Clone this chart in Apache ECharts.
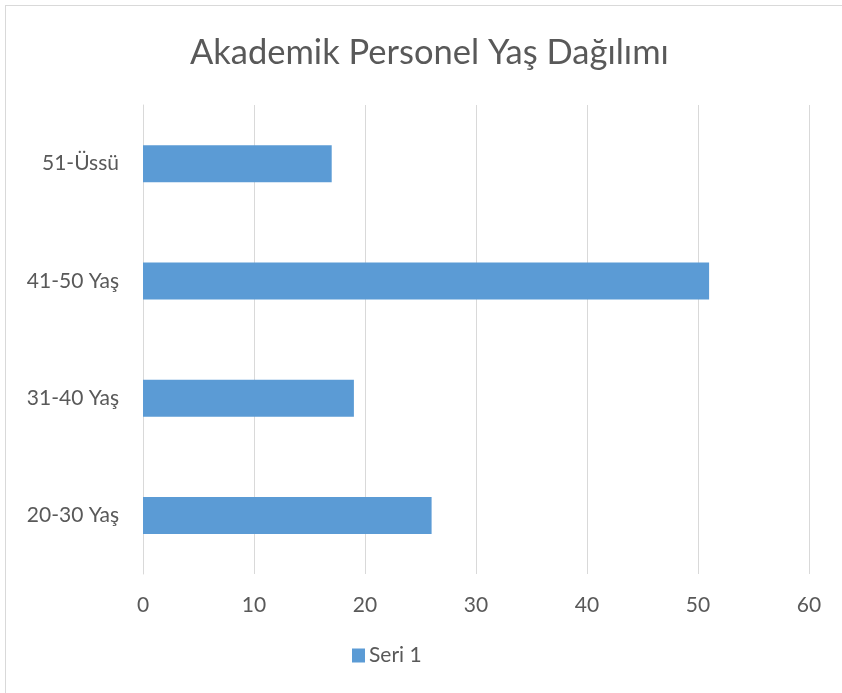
<!DOCTYPE html>
<html>
<head>
<meta charset="utf-8">
<script src="https://cdn.jsdelivr.net/npm/echarts@6/dist/echarts.min.js"></script>
<style>
html,body{margin:0;padding:0;background:#fff;overflow:hidden;}
#frame{position:absolute;left:5px;top:5px;width:900px;height:800px;border:1px solid #D9D9D9;box-sizing:border-box;}
#c{position:absolute;left:0;top:0;width:842px;height:693px;}
</style>
</head>
<body>
<div id="frame"></div>
<div id="c"></div>
<script>
const title = 'Akademik Personel Yaş Dağılımı';
const categories = ['20-30 Yaş', '31-40 Yaş', '41-50 Yaş', '51-Üssü'];
const seriesName = 'Seri 1';
const values = [26, 19, 51, 17];
const xMin = 0, xMax = 60, xStep = 10;

const font = 'Lato';
const chart = echarts.init(document.getElementById('c'), null, {renderer: 'canvas'});
chart.setOption({
  backgroundColor: 'transparent',
  animation: false,
  title: {
    text: title, left: 190, top: 35, padding: 0,
    textStyle: {fontFamily: font, fontSize: 34.5, fontWeight: 'normal', color: '#595959'}
  },
  legend: {
    data: [seriesName], top: 645, left: 352, padding: 0,
    itemWidth: 13, itemHeight: 14, itemGap: 5,
    icon: 'rect',
    textStyle: {fontFamily: font, fontSize: 21, color: '#595959', padding: [0,0,0,-1]}
  },
  grid: {left: 143, right: 33, top: 105, bottom: 119, containLabel: false},
  xAxis: {
    type: 'value', min: xMin, max: xMax, interval: xStep,
    axisLine: {show: false}, axisTick: {show: false},
    splitLine: {lineStyle: {color: '#D9D9D9', width: 1}},
    axisLabel: {fontFamily: font, fontSize: 21, color: '#595959', margin: 21}
  },
  yAxis: {
    type: 'category', data: categories,
    axisLine: {show: true, lineStyle: {color: '#D9D9D9'}},
    axisTick: {show: false},
    axisLabel: {fontFamily: font, fontSize: 21, color: '#595959', margin: 24}
  },
  series: [{
    name: seriesName, type: 'bar', data: values, barWidth: 37,
    itemStyle: {color: '#5B9BD5'}
  }]
});
</script>
</body>
</html>
